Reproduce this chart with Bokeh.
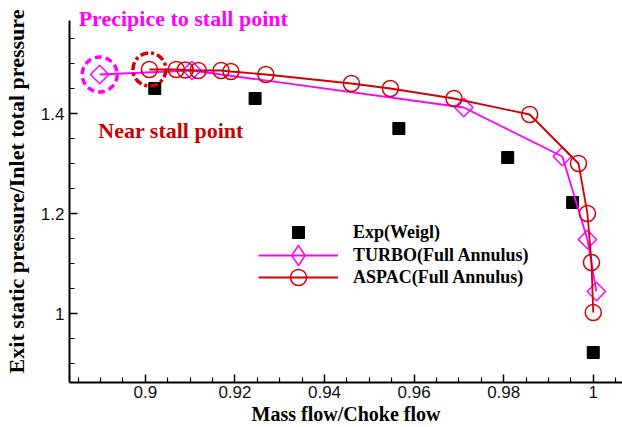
import numpy as np
from bokeh.plotting import figure
from bokeh.models import FixedTicker, Legend, LegendItem, Label, Range1d
from bokeh.embed import file_html
from bokeh.resources import INLINE

# ---- data ----
exp_x = [0.9021, 0.9245, 0.9566, 0.9809, 0.9954, 1.0000]
exp_y = [1.450, 1.430, 1.370, 1.312, 1.222, 0.922]

turbo_x = [0.8898, 0.9104, 0.9711, 0.9931, 0.9987, 1.0007]
turbo_y = [1.478, 1.486, 1.412, 1.314, 1.148, 1.044]

aspac_x = [0.9009, 0.9069, 0.9089, 0.9118, 0.9169, 0.9191, 0.9269, 0.9460,
           0.9547, 0.9689, 0.9858, 0.9967, 0.9987, 0.9996, 1.0000]
aspac_y = [1.488, 1.488, 1.487, 1.486, 1.486, 1.484, 1.478, 1.460,
           1.450, 1.430, 1.398, 1.300, 1.200, 1.102, 1.002]

x_ticks = [0.90, 0.92, 0.94, 0.96, 0.98, 1.00]
x_tick_labels = ["0.9", "0.92", "0.94", "0.96", "0.98", "1"]
x_minor = [0.885, 0.89, 0.895, 0.905, 0.91, 0.915, 0.925, 0.93, 0.935, 0.945,
           0.95, 0.955, 0.965, 0.97, 0.975, 0.985, 0.99, 0.995, 1.005]
y_ticks = [1.0, 1.2, 1.4]
y_tick_labels = ["1", "1.2", "1.4"]
y_minor = [0.9, 0.95, 1.05, 1.1, 1.15, 1.25, 1.3, 1.35, 1.45, 1.5, 1.55]

series_names = ["Exp(Weigl)", "TURBO(Full Annulus)", "ASPAC(Full Annulus)"]
annot_texts = ["Precipice to stall point", "Near stall point"]

MAGENTA = "#ff00ff"
RED = "#d20000"
SERIF = "Liberation Serif"

Y_AXIS_TOP = 1.586

p = figure(width=622, height=427,
           x_range=Range1d(0.88306, 1.00653), y_range=Range1d(0.862, 1.626),
           output_backend="svg", toolbar_location=None,
           min_border_left=68, min_border_right=0,
           min_border_top=0, min_border_bottom=45)
p.outline_line_color = None
p.grid.visible = False
p.background_fill_color = "white"
p.border_fill_color = "white"

for ax in (p.xaxis[0], p.yaxis[0]):
    ax.axis_line_width = 2
    ax.axis_line_color = "black"
    ax.major_tick_in = 8
    ax.major_tick_out = 0
    ax.minor_tick_in = 5
    ax.minor_tick_out = 0
    ax.major_tick_line_width = 1.5
    ax.minor_tick_line_width = 1.2
    ax.major_label_text_font = "Liberation Sans"
    ax.major_label_text_font_size = "17px"
    ax.major_label_text_color = "#111111"
    ax.axis_label_text_font = SERIF
    ax.axis_label_text_font_style = "bold"
    ax.axis_label_text_color = "black"

p.yaxis.bounds = (0.862, Y_AXIS_TOP)
p.xaxis.ticker = FixedTicker(ticks=x_ticks, minor_ticks=x_minor)
p.yaxis.ticker = FixedTicker(ticks=y_ticks, minor_ticks=y_minor)
p.xaxis.major_label_overrides = dict(zip(x_ticks, x_tick_labels))
p.yaxis.major_label_overrides = dict(zip(y_ticks, y_tick_labels))

p.xaxis.axis_label = "Mass flow/Choke flow"
p.yaxis.axis_label = "Exit static pressure/Inlet total pressure"
p.xaxis.axis_label_text_font_size = "20px"
p.yaxis.axis_label_text_font_size = "22px"
p.xaxis.major_label_standoff = 3
p.xaxis.axis_label_standoff = 2
p.yaxis.major_label_standoff = 5
p.yaxis.axis_label_standoff = 9

# experimental
exp_r = p.scatter(exp_x, exp_y, marker="square", size=12,
                  fill_color="black", line_color="black")

# TURBO
turbo_line = p.line(turbo_x, turbo_y, line_color=MAGENTA, line_width=1.8)
turbo_pts = p.scatter(turbo_x, turbo_y, marker="square", angle=np.pi / 4, size=13,
                      fill_color=None, line_color=MAGENTA, line_width=1.5)
# sample marker used only by the legend (legend markers ignore the angle)
turbo_legend_pts = p.scatter(turbo_x, turbo_y, marker="diamond", size=20,
                             fill_color=None, line_color=MAGENTA, line_width=1.5,
                             visible=False)

# ASPAC
aspac_line = p.line(aspac_x, aspac_y, line_color=RED, line_width=1.8)
aspac_pts = p.scatter(aspac_x, aspac_y, marker="circle", size=16,
                      fill_color=None, line_color=RED, line_width=1.5)

# highlighted points (dashed circles)
p.scatter([turbo_x[0]], [turbo_y[0]], marker="circle", size=35, fill_color=None,
          line_color=MAGENTA, line_width=3.5, line_dash="7 4")
p.scatter([aspac_x[0]], [aspac_y[0]], marker="circle", size=33, fill_color=None,
          line_color=RED, line_width=3.5, line_dash="8 3 3 3")

# annotations
p.add_layout(Label(x=0.8851, y=1.590, text=annot_texts[0], text_font=SERIF,
                   text_font_style="bold", text_font_size="22px",
                   text_color=MAGENTA, text_baseline="alphabetic"))
p.add_layout(Label(x=0.8895, y=1.366, text=annot_texts[1], text_font=SERIF,
                   text_font_style="bold", text_font_size="22px",
                   text_color="#c80000", text_baseline="alphabetic"))

# legends (one per entry so each sample marker can get its own size)
def make_legend(label, renderers, gh, cy):
    leg = Legend(items=[LegendItem(label=label, renderers=renderers)],
                 location=(189, 382 - (cy + gh / 2)),
                 glyph_width=80, glyph_height=gh, padding=0, margin=0,
                 spacing=0, label_standoff=15,
                 label_text_font=SERIF, label_text_font_style="bold",
                 label_text_font_size="18px", label_text_color="black",
                 background_fill_alpha=0, border_line_color=None)
    p.add_layout(leg, "center")

make_legend(series_names[0], [exp_r], 30, 232)
make_legend(series_names[1], [turbo_line, turbo_legend_pts], 50, 255)
make_legend(series_names[2], [aspac_line, aspac_pts], 40, 277)

open("out.html", "w").write(file_html(p, INLINE))
